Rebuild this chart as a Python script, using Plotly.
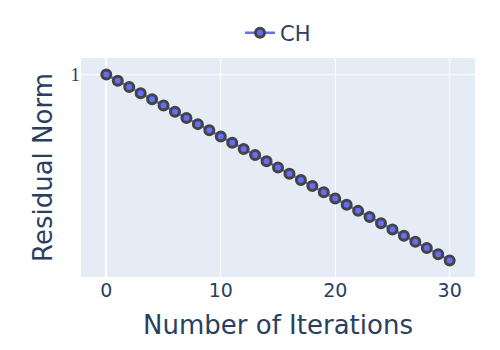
import plotly.graph_objects as go

iterations = list(range(31))
residual_norm = [1.0, 0.5, 0.25, 0.125, 0.0625, 0.03125, 0.015625, 0.0078125,
                 0.00390625, 0.001953, 0.0009766, 0.0004883, 0.0002441, 0.0001221,
                 6.104e-05, 3.052e-05, 1.526e-05, 7.629e-06, 3.815e-06, 1.907e-06,
                 9.537e-07, 4.768e-07, 2.384e-07, 1.192e-07, 5.96e-08, 2.98e-08,
                 1.49e-08, 7.451e-09, 3.725e-09, 1.863e-09, 9.313e-10]
series_name = "CH"
y_tickvals = [1]
y_ticktext = ["1"]

fig = go.Figure()
fig.add_trace(go.Scatter(
    x=iterations, y=residual_norm, mode="lines+markers", name=series_name,
    showlegend=True,
    line=dict(color="#636efa", width=2.5),
    marker=dict(color="#636efa", size=9, line=dict(color="#444444", width=3)),
))
fig.update_layout(
    width=500, height=350,
    template="plotly",
    font=dict(family="DejaVu Sans", color="#2a3f5f"),
    margin=dict(l=73, r=33, t=50, b=81, autoexpand=False),
    legend=dict(orientation="h", x=0.5, xanchor="center", y=1.02, yanchor="bottom",
                font=dict(size=21)),
    xaxis=dict(title=dict(text="Number of Iterations", font=dict(size=26)),
               tickfont=dict(size=19), dtick=10, automargin=False),
    yaxis=dict(type="log", title=dict(text="Residual Norm", font=dict(size=26), standoff=10),
               tickvals=y_tickvals, ticktext=y_ticktext, automargin=False,
               tickfont=dict(size=19, family="Liberation Serif")),
)
fig.write_html("out.html")
